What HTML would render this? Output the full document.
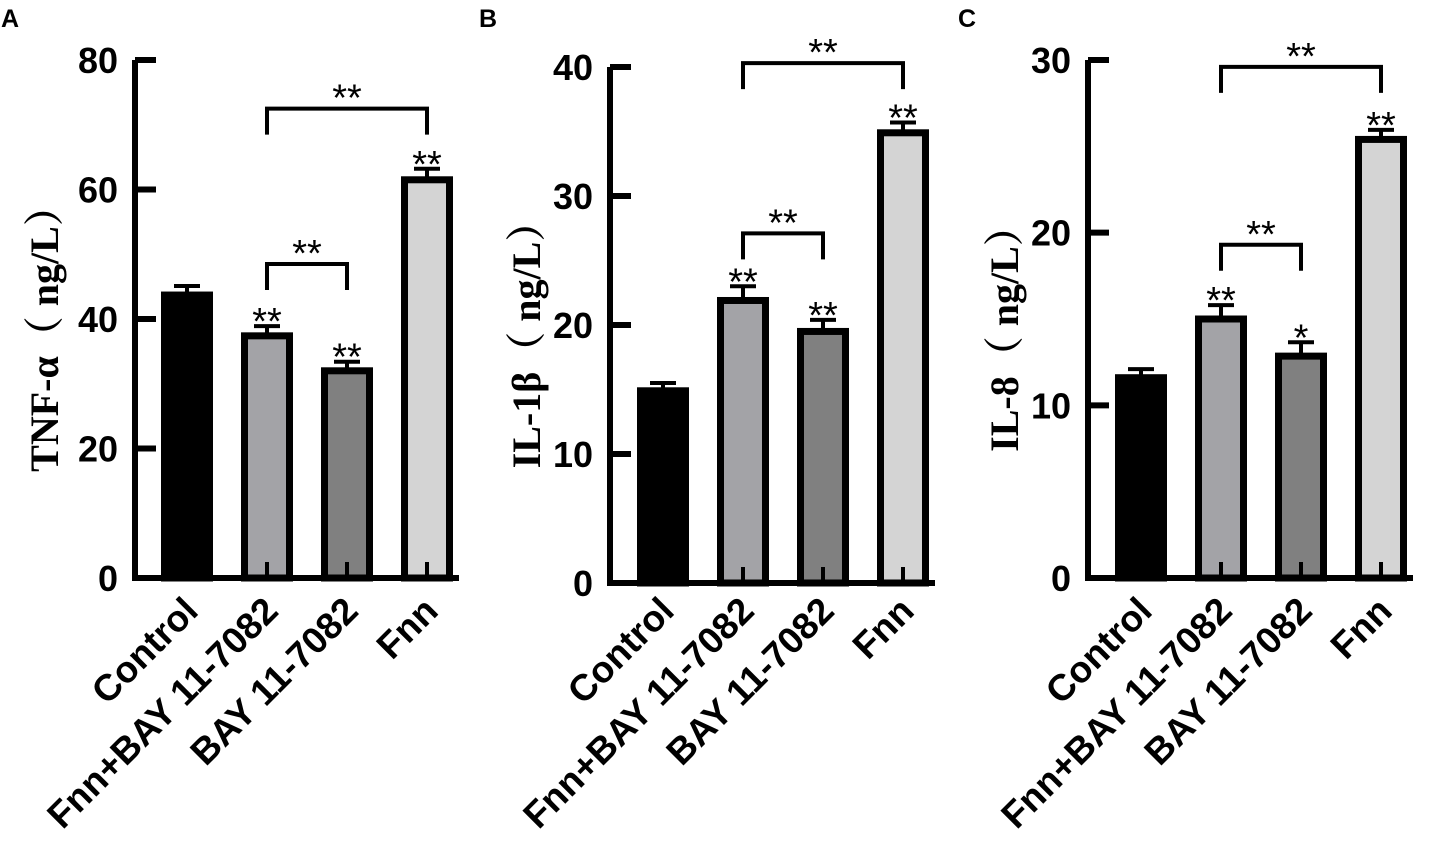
<!DOCTYPE html>
<html><head><meta charset="utf-8"><style>
html,body{margin:0;padding:0;background:#fff;}
svg{display:block;}
</style></head><body>
<svg id="chart" width="1440" height="855" viewBox="0 0 1440 855" xmlns="http://www.w3.org/2000/svg"></svg>
<script>
// categories shared by all panels
const categories = ["Control", "Fnn+BAY 11-7082", "BAY 11-7082", "Fnn"];
const fills = ["#000000", "#a3a3a7", "#808080", "#d4d4d4"];
// Panel A: TNF-α
const tnfValues = [43.7, 37.4, 32.0, 61.5];
const tnfErrors = [45.1, 38.9, 33.4, 63.2];
const tnfTicks = [0, 20, 40, 60, 80];
const tnfStars = ["", "**", "**", "**"];
// Panel B: IL-1β
const il1Values = [14.9, 21.9, 19.5, 34.9];
const il1Errors = [15.5, 23.0, 20.4, 35.7];
const il1Ticks = [0, 10, 20, 30, 40];
const il1Stars = ["", "**", "**", "**"];
// Panel C: IL-8
const il8Values = [11.6, 15.0, 12.85, 25.4];
const il8Errors = [12.1, 15.8, 13.65, 25.95];
const il8Ticks = [0, 10, 20, 30];
const il8Stars = ["", "**", "*", "**"];
// brackets: [from index, to index, level value]
const tnfBrackets = [[1, 2, 48.5], [1, 3, 72.5]];
const il1Brackets = [[1, 2, 27.1], [1, 3, 40.3]];
const il8Brackets = [[1, 2, 19.3], [1, 3, 29.6]];

const NS = "http://www.w3.org/2000/svg";
const svg = document.getElementById("chart");
function mk(tag, attrs, parent) {
  const e = document.createElementNS(NS, tag);
  for (const k in attrs) e.setAttribute(k, attrs[k]);
  (parent || svg).appendChild(e);
  return e;
}

const panels = [
  {key:"tnf", letter:"A", lx:0, title:"TNF-α（ ng/L）", titleX:58, axisX:135, y0:578, yTop:60, max:80, firstBar:187, values:tnfValues, errors:tnfErrors, ticks:tnfTicks, stars:tnfStars, brackets:tnfBrackets},
  {key:"il1b", letter:"B", lx:478, title:"IL-1β（ ng/L）", titleX:540, axisX:610, y0:583, yTop:67, max:40, firstBar:663, values:il1Values, errors:il1Errors, ticks:il1Ticks, stars:il1Stars, brackets:il1Brackets},
  {key:"il8", letter:"C", lx:957, title:"IL-8（ ng/L）", titleX:1018, axisX:1088, y0:578, yTop:60, max:30, firstBar:1141, values:il8Values, errors:il8Errors, ticks:il8Ticks, stars:il8Stars, brackets:il8Brackets}
];
const spacing = 80, barW = 52, sw = 7;

panels.forEach(p => {
  const g = mk("g", {});
  
  
  const y = v => p.y0 - (v / p.max) * (p.y0 - p.yTop);
  const xc = i => p.firstBar + i * spacing;

  const letter = mk("text", {x:p.lx + 1, y:27, "font-family":"Liberation Sans, sans-serif", "font-weight":"bold", "font-size":"25"}, g);
  letter.textContent = p.letter;
  
  

  const title = mk("text", {x:p.titleX, y:(p.y0 + p.yTop) / 2 + 10, transform:`rotate(-90 ${p.titleX} ${(p.y0 + p.yTop) / 2 + 10})`, "text-anchor":"middle", "font-family":"Liberation Serif, 'Noto Serif CJK SC', serif", "font-weight":"bold", "font-size":"40"}, g);
  title.textContent = p.title;
  
  

  // bars
  p.values.forEach((v, i) => {
    const cx = xc(i);
    const r = mk("rect", {x:cx - barW / 2 + sw / 2, y:y(v), width:barW - sw, height:p.y0 - y(v), fill:fills[i], stroke:"#000", "stroke-width":sw}, g);
    
    
    const e = mk("path", {d:`M${cx} ${y(v)} V${y(p.errors[i])} M${cx - 13} ${y(p.errors[i])} H${cx + 13} M${cx} ${p.y0} V${p.y0 - 16}`, stroke:"#000", "stroke-width":"4", fill:"none"}, g);
    
    
    if (p.stars[i]) {
      const s = mk("text", {x:cx, y:y(p.errors[i]) + 8, "text-anchor":"middle", "font-family":"Liberation Sans, sans-serif", "font-size":"38"}, g);
      s.textContent = p.stars[i];
      
      
    }
    const lx = cx + 13, ly = 613;
    const lab = mk("text", {x:lx, y:ly, transform:`rotate(-45 ${lx} ${ly})`, "text-anchor":"end", "font-family":"Liberation Sans, sans-serif", "font-weight":"bold", "font-size":"37"}, g);
    lab.textContent = categories[i];
    
    
  });

  // axes
  const ax = mk("path", {d:`M${p.axisX} ${p.yTop} V${p.y0} H${xc(3) + 32}`, stroke:"#000", "stroke-width":"6", fill:"none"}, g);
  
  
  p.ticks.forEach(t => {
    const tk = mk("line", {x1:p.axisX, x2:p.axisX + 21, y1:y(t), y2:y(t), stroke:"#000", "stroke-width":"6"}, g);
    
    
    const tl = mk("text", {x:p.axisX - 17, y:y(t) + 13, "text-anchor":"end", "font-family":"Liberation Sans, sans-serif", "font-weight":"bold", "font-size":"36"}, g);
    tl.textContent = t;
    
    
  });

  // brackets
  p.brackets.forEach(b => {
    const x1 = xc(b[0]), x2 = xc(b[1]), by = y(b[2]);
    const br = mk("path", {d:`M${x1} ${by + 26} V${by} H${x2} V${by + 26}`, stroke:"#000", "stroke-width":"4", fill:"none"}, g);
    
    
    const st = mk("text", {x:(x1 + x2) / 2, y:by + 2, "text-anchor":"middle", "font-family":"Liberation Sans, sans-serif", "font-size":"38"}, g);
    st.textContent = "**";
    
    
  });
});
</script>
</body></html>
